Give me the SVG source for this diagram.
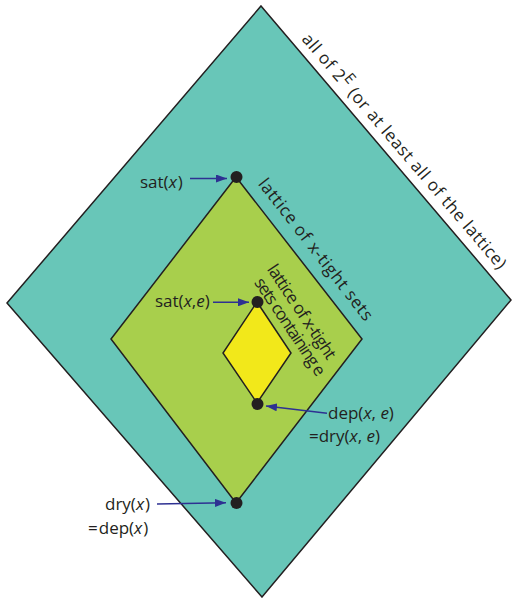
<svg xmlns="http://www.w3.org/2000/svg" width="512" height="598" viewBox="0 0 512 598">
<style>
.edge{stroke:#231f20;stroke-width:1.5;stroke-linejoin:miter}
.dot{fill:#231f20}
.lbl{font-family:"Open Sans","Noto Sans",sans-serif;fill:#231f20;font-size:17px}
.m{font-style:italic}
.arr{stroke:#2e3192;stroke-width:1.5;fill:none;marker-end:url(#ah)}
</style>
<defs>
<marker id="ah" markerUnits="userSpaceOnUse" markerWidth="12" markerHeight="8" refX="11" refY="4" orient="auto">
<path d="M0,0 L11,4 L0,8 z" fill="#2e3192"/>
</marker>
</defs>
<rect width="512" height="598" fill="#ffffff"/>
<g id="outer">
<polygon class="edge" points="261,6 511,300 262,597 7,303" fill="#68c6b8"/>
<text class="lbl" font-size="20.5" textLength="304" transform="translate(301,39.5) rotate(49.4)">all of 2<tspan dy="-7" font-size="15">E</tspan><tspan dy="7"> (or at least all of the lattice)</tspan></text>
</g>
<g id="xtight">
<polygon class="edge" points="236,177 362,339 236,503 111,339" fill="#a8cf4c"/>
<text class="lbl" font-size="19.5" textLength="175" transform="translate(257.5,184) rotate(52.1)">lattice of x-tight sets</text>
</g>
<g id="containing">
<polygon class="edge" points="257,302 291,353 257,403 223,353" fill="#f2e81a"/>
<g transform="translate(257,302) rotate(56.3)">
<text class="lbl" font-size="14.5" textLength="110" x="-22" y="-26">lattice of x-tight</text>
<text class="lbl" font-size="14.5" textLength="114" x="-18" y="-8">sets containing e</text>
</g>
</g>
<g id="sat-x">
<circle class="dot" cx="236.5" cy="177" r="6"/>
<text class="lbl" x="140" y="188">sat(<tspan class="m">x</tspan><tspan dx="1">)</tspan></text>
</g>
<g id="sat-xe">
<circle class="dot" cx="257.5" cy="302" r="6"/>
<text class="lbl" x="155" y="307">sat(<tspan class="m">x</tspan>,<tspan class="m">e</tspan>)</text>
</g>
<g id="dep-xe">
<circle class="dot" cx="257.5" cy="404" r="6"/>
<text class="lbl" x="328" y="419">dep(<tspan class="m">x</tspan>, <tspan class="m">e</tspan>)</text>
<text class="lbl" x="309" y="442">=dry(<tspan class="m">x</tspan>, <tspan class="m">e</tspan>)</text>
</g>
<g id="dry-x">
<circle class="dot" cx="236.5" cy="503" r="6"/>
<text class="lbl" x="105" y="510">dry(<tspan class="m">x</tspan><tspan dx="1">)</tspan></text>
<text class="lbl" x="88" y="534">=<tspan dx="1">dep(</tspan><tspan class="m">x</tspan><tspan dx="1">)</tspan></text>
</g>
<g id="connectors">
<line class="arr" x1="190" y1="178.5" x2="227" y2="178.5"/>
<line class="arr" x1="213" y1="302.3" x2="249" y2="302.3"/>
<line class="arr" x1="327" y1="413.3" x2="266" y2="406"/>
<line class="arr" x1="157" y1="504" x2="226" y2="502.7"/>
</g>
</svg>
